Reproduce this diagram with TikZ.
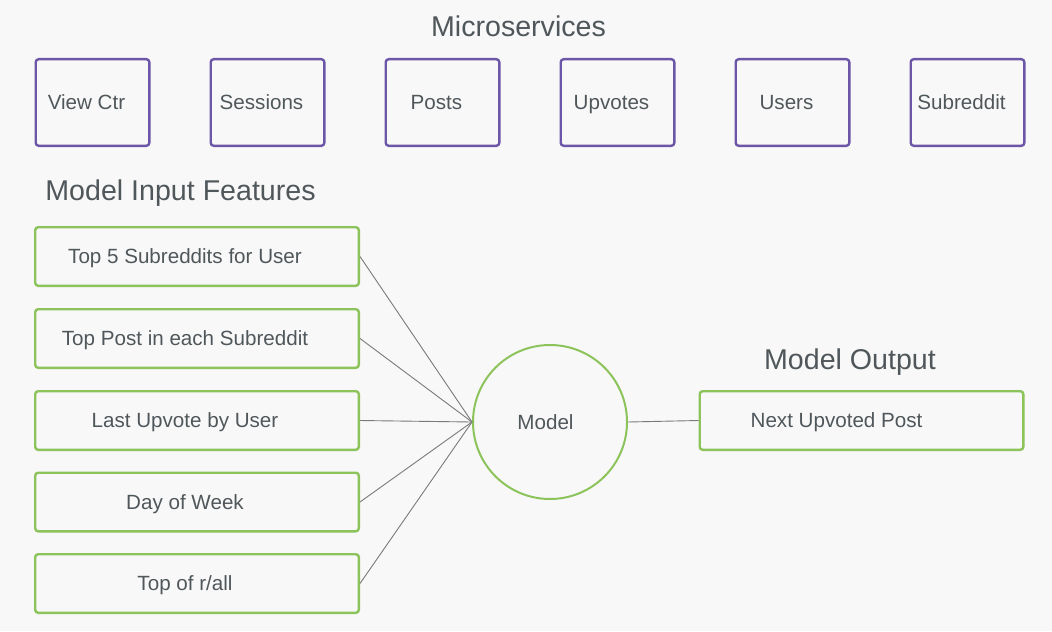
\documentclass[tikz,border=0pt]{standalone}
\usepackage{fontspec}
\setmainfont{Liberation Sans}
\usepackage{tikz}
\usetikzlibrary{positioning}

\definecolor{bggray}{HTML}{F8F8F8}
\definecolor{txtgray}{HTML}{50575B}
\definecolor{svcpurple}{HTML}{6B56A7}
\definecolor{featgreen}{HTML}{8CC35B}
\definecolor{linkgray}{HTML}{7A7A7A}

\begin{document}
\begin{tikzpicture}[x=0.5pt, y=-0.5pt,
            heading/.style={text=txtgray, inner sep=0pt, font=\fontsize{14.3}{17}\selectfont},
            service/.style={draw=svcpurple, line width=1.2pt, rounded corners=1.5pt,
                minimum width=56.8pt, minimum height=43.3pt, inner sep=0pt,
                text height=7.4pt, text depth=0pt, execute at end node=\hspace*{6pt},
                text=txtgray, font=\fontsize{10.3}{12}\selectfont},
            feature/.style={draw=featgreen, line width=1.2pt, rounded corners=1.5pt,
                minimum width=161.8pt, minimum height=29.3pt, inner sep=0pt,
                text height=7.4pt, text depth=0pt, execute at end node=\hspace*{12pt},
                text=txtgray, font=\fontsize{10.3}{12}\selectfont},
            link/.style={draw=linkgray, line width=0.45pt}]
            \fill[bggray] (0,0) rectangle (1052,631);

            % microservices
            \node[heading] (msTitle) at (518.5,26.5) {Microservices};
            \node[service] (viewctr) at (92.5,102.5) {View Ctr};
            \node[service] (sessions) at (267.5,102.5) {Sessions};
            \node[service] (posts) at (442.5,102.5) {Posts};
            \node[service] (upvotes) at (617.5,102.5) {Upvotes};
            \node[service] (users) at (792.5,102.5) {Users};
            \node[service] (subreddit) at (967.5,102.5) {Subreddit};

            % model inputs
            \node[heading, anchor=base west] (inTitle) at (45,200) {Model Input Features};
            \node[feature] (topsubs) at (197,256.5) {Top 5 Subreddits for User};
            \node[feature] (toppost) at (197,338.5) {Top Post in each Subreddit};
            \node[feature] (lastup) at (197,420.5) {Last Upvote by User};
            \node[feature] (dow) at (197,502) {Day of Week};
            \node[feature] (rall) at (197,583.5) {Top of r/all};

            \node[draw=featgreen, line width=1pt, circle, minimum size=77pt, inner sep=0pt,
                text height=7.4pt, text depth=0pt, execute at end node=\hspace*{4.5pt},
                text=txtgray, font=\fontsize{10.3}{12}\selectfont] (model) at (550,422) {Model};

            % model output
            \node[heading, anchor=base] (outTitle) at (850,369) {Model Output};
            \node[feature, execute at end node=\hspace*{13pt}] (nextpost) at (861.5,420.5) {Next Upvoted Post};

            \draw[link] (topsubs.east) -- (model.west);
            \draw[link] (toppost.east) -- (model.west);
            \draw[link] (lastup.east) -- (model.west);
            \draw[link] (dow.east) -- (model.west);
            \draw[link] (rall.east) -- (model.west);
            \draw[link] (model.east) -- (nextpost.west);
        \end{tikzpicture}
\end{document}
